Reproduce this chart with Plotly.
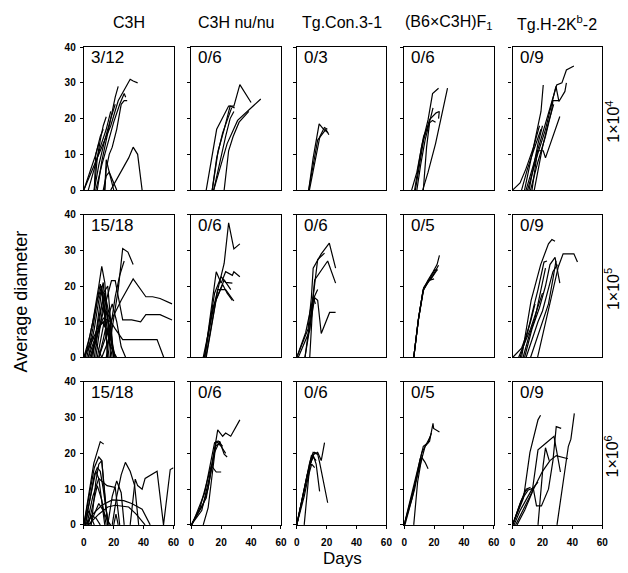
import plotly.graph_objects as go

# ---------------- data (days, average diameter) ----------------
col_titles = ["C3H", "C3H nu/nu", "Tg.Con.3-1", "(B6×C3H)F<sub>1</sub>", "Tg.H-2K<sup>b</sup>-2"]
row_labels = ["1×10<sup>4</sup>", "1×10<sup>5</sup>", "1×10<sup>6</sup>"]
counts = [["3/12", "0/6", "0/3", "0/6", "0/9"],
          ["15/18", "0/6", "0/6", "0/5", "0/9"],
          ["15/18", "0/6", "0/6", "0/5", "0/9"]]
x_ticks = [0, 20, 40, 60]
y_ticks = [0, 10, 20, 30, 40]

p11 = [([0, 6, 12, 18, 23, 27, 31, 33, 36], [0, 6, 12, 18, 25, 28, 31, 30.5, 30]),
       ([7, 10, 14, 18, 21, 23], [0, 7, 14, 20, 26, 29]),
       ([8, 12, 16, 20, 24, 27, 28], [0, 7, 13, 19, 24, 27, 26]),
       ([14, 15, 17, 19, 22, 25, 27, 29], [0, 6, 10, 12, 17, 24, 25, 25]),
       ([7, 9, 11, 13, 15], [0, 9, 14, 18, 20.5]),
       ([0, 4, 8, 11, 13], [0, 5, 10, 15, 17]),
       ([3, 7, 11, 15, 18], [0, 6, 12, 17, 22]),
       ([14, 15, 17, 20], [0, 8.5, 5, 0]),
       ([13, 15, 17, 20, 22], [0, 4, 5, 2, 0]),
       ([18, 22, 26, 30, 33, 36, 39], [0, 3, 6, 9, 12, 10, 0]),
       ([9, 12, 15, 18, 21], [0, 8, 14, 20, 24]),
       ([7, 8, 10], [0, 10, 13])]
p12 = [([10, 17, 25, 28.5, 32.5, 40], [0, 17, 23.5, 23.5, 29.5, 24.5]),
       ([14, 18, 22, 26, 29], [0, 11, 17, 23.5, 23]),
       ([15, 20, 24, 31, 36, 39, 46.5], [0, 7, 13, 19.5, 21.5, 22.5, 25.5]),
       ([22, 25, 28, 32, 38.5], [0, 11, 15, 19, 22]),
       ([15, 19, 23, 26, 28.5], [0, 8, 15, 20, 22]),
       ([14, 17, 21, 25, 27], [0, 9, 16, 21, 23])]
p13 = [([8, 11, 15, 18, 21], [0, 9, 18.5, 17, 16]),
       ([8, 11, 14, 19.5, 21.5], [0, 7, 14, 17, 15.5]),
       ([8.5, 12, 15.5, 18.5, 20.5], [0, 8, 15, 17.5, 17])]
p14 = [([7, 11.7, 16, 19, 23], [0, 12.3, 19.7, 27, 28.5]),
       ([7.5, 13, 17, 21.4, 23.5, 23], [0, 14, 19.7, 21.6, 22, 20]),
       ([12.4, 16, 21, 25.7, 29], [0, 5, 13, 22, 28.5]),
       ([8.5, 11, 14, 17, 19.3], [0, 7, 14, 19, 23]),
       ([12.8, 15, 17, 19, 21], [0, 12, 18.8, 19.5, 19]),
       ([5, 8.5, 13, 16], [0, 5, 15, 18])]
p15 = [([9, 16.7, 23, 29.5, 33, 36, 41], [0, 11, 20.6, 29.4, 30, 33.6, 34.7]),
       ([8, 14.5, 19, 20.5], [0, 13, 22, 29.4]),
       ([10, 16, 22, 29, 31, 35, 36], [0, 9, 17, 29, 24.8, 27.6, 30]),
       ([12, 17, 22, 26, 27, 31], [0, 8, 15, 22, 25, 25]),
       ([13, 16.7, 20.5, 22, 31.6], [0, 11, 11, 9, 20.6]),
       ([0, 5, 9, 14, 18], [0, 2, 6, 12, 18]),
       ([14.5, 17, 20, 24, 27.5], [0, 6, 12, 19, 24]),
       ([6, 10, 14, 17, 19], [0, 6, 11, 15, 17]),
       ([11, 14, 17, 20], [0, 7, 13, 18])]
p21 = [([1, 6, 10, 12, 14, 16, 18], [0, 10, 20, 25.5, 21, 10, 0]),
       ([0, 4, 8, 11, 13, 15, 17], [0, 6, 14, 20.5, 16, 6, 0]),
       ([2, 6, 9, 12, 14, 16], [0, 8, 16, 20, 12, 0]),
       ([3, 7, 10, 13, 15, 19], [0, 8, 16, 21, 10, 0]),
       ([5, 8, 11, 14, 17, 20], [0, 7, 13, 18, 8, 0]),
       ([0, 5, 9, 13, 18, 21], [0, 4, 8, 10, 5, 0]),
       ([4, 8, 12, 15, 18, 22], [0, 5, 10, 8, 3, 0]),
       ([6, 9, 12, 14, 16], [0, 10, 19, 12, 0]),
       ([8, 11, 14, 17, 19, 21], [0, 9, 18, 12, 4, 0]),
       ([3, 8, 13, 18, 21, 26, 49, 53.5], [0, 6, 11, 10, 8, 5, 5, 0]),
       ([5, 10, 14, 18.5, 21, 26, 32, 38, 41.5, 51, 59], [0, 8, 15, 21.5, 21.5, 10.5, 10.5, 10, 12, 12, 10.5]),
       ([10, 15, 18.5, 25, 33, 41.5, 46, 51, 59], [0, 6, 10.5, 16, 22, 17, 17, 16.5, 15]),
       ([12, 18.5, 23, 26, 29.5, 33], [0, 7, 19, 30.5, 29.5, 26]),
       ([15, 18, 21, 24, 27], [0, 9, 17, 23, 27]),
       ([7, 10, 13, 16, 18, 20], [0, 9, 18, 20, 10, 0]),
       ([10, 13, 16, 19, 22, 25, 28], [0, 5, 11, 15, 10, 3, 0]),
       ([9, 12, 15, 18, 20], [0, 6, 13, 6, 0]),
       ([0, 3, 6, 9, 12], [0, 3, 6, 3, 0])]
p22 = [([8, 15.6, 22, 25, 28.5, 32.5], [0, 15.3, 26.3, 37.7, 30.4, 31.8]),
       ([9, 16.7, 20, 23, 27.5, 28.5, 32.5], [0, 24, 20.8, 24, 23, 24, 22.6]),
       ([8.7, 15.6, 20, 23, 27.5], [0, 18, 22.6, 21, 20.8]),
       ([9.7, 17.7, 23, 28.5], [0, 19, 19, 15.8]),
       ([10, 16.7, 22, 26.4], [0, 16.3, 21.7, 19]),
       ([9, 14.5, 21, 24, 27.5], [0, 14, 20.4, 18, 16])]
p23 = [([0, 7.6, 9.8, 11, 16.4, 21.8, 26], [0, 8, 16.7, 25, 29, 32, 25]),
       ([1, 8.7, 12, 16, 20.7, 26], [0, 7.6, 21.7, 24, 27, 20.8]),
       ([8.7, 11, 14, 18.6], [0, 17, 27.4, 29.2]),
       ([5.5, 10, 12, 14, 16.4, 22, 26], [0, 12, 16.7, 16, 6.7, 12.6, 12.6]),
       ([5.5, 10, 12, 14], [0, 14, 17.2, 19]),
       ([0, 6, 9, 11, 12.5], [0, 7, 13, 17, 15])]
p24 = [([6.4, 9.6, 12.8, 16, 19.3, 22, 23.6], [0, 10.8, 19, 21.7, 24, 26, 28.6]),
       ([6.4, 9.6, 12.8, 16, 19.3, 23], [0, 11, 19, 21, 23, 25.8]),
       ([6.4, 9.3, 12.5, 15.5, 18, 22], [0, 10, 18.5, 21, 22, 24.5]),
       ([6.4, 9.8, 13, 16, 20], [0, 11.5, 19.5, 21.5, 22]),
       ([6.4, 9.5, 13, 17, 20.5, 22.5], [0, 10.5, 19, 22, 24.5, 24.5])]
p25 = [([0, 6, 9, 12, 15], [0, 2.6, 6, 10, 15]),
       ([6, 12.4, 18.8, 24, 26.3, 28.4], [0, 16, 26, 31.8, 33, 32.5]),
       ([16.7, 23, 27.4, 30.6, 33.8, 41, 43.4], [0, 11.7, 20, 25.4, 29, 29, 26.7]),
       ([8, 13, 18, 22, 25, 28.4, 31.6], [0, 8, 14, 20, 26, 28, 20.8]),
       ([5, 10, 14, 17, 21, 23], [0, 7, 14, 19, 26.7, 27]),
       ([7, 11, 15, 17, 19, 22], [0, 6, 11, 15, 19, 25]),
       ([9, 13, 17, 20, 23, 27, 30], [0, 5, 10, 13, 18, 24, 26]),
       ([12, 17, 21, 24, 27, 29], [0, 6, 11, 15, 22, 27]),
       ([4, 8, 12, 16, 20], [0, 4, 8, 13, 18])]
p31 = [([0, 6.7, 11, 13.3], [0, 17.3, 23.3, 22.6]),
       ([0, 4, 7, 10, 12, 14, 16], [0, 9, 16, 19, 18, 8, 0]),
       ([1, 4, 7, 9, 11, 13, 15, 17], [0, 7, 14, 16, 15, 10, 4, 0]),
       ([0, 3, 6, 8, 10, 12, 14], [0, 5, 11, 15, 13, 6, 0]),
       ([2, 6, 10, 13, 15.5, 21, 24], [0, 8, 13, 12, 11, 10.5, 0]),
       ([19, 22, 25, 27.8, 31, 34, 36.7], [0, 8, 14, 17.5, 15, 11, 0]),
       ([16, 19, 22, 25, 27], [0, 8, 12.3, 9, 0]),
       ([31, 34.4, 36, 39, 41, 45, 49, 53.3, 57.8, 60], [0, 12.8, 11, 10, 13, 14, 15, 0, 15.5, 16]),
       ([1, 6, 12, 19, 26.7, 32, 39, 44.4], [0, 3, 5.5, 7, 6.8, 6, 4.4, 0]),
       ([3, 10, 16, 21, 30, 35, 41], [0, 3, 5, 5.5, 5, 3, 0]),
       ([20, 21.5, 23], [0, 3, 0]),
       ([1, 3, 5, 7], [0, 4, 2, 0]),
       ([2, 5, 8, 11], [0, 2.5, 2, 0]),
       ([5, 8, 10, 12, 14, 16], [0, 12, 17, 18, 9, 0]),
       ([3, 6, 9, 12, 15], [0, 6, 11, 7, 0]),
       ([4, 7, 10, 13, 16, 18], [0, 3, 6, 4, 1, 0])]
p32 = [([0, 8, 11.3, 17.7, 21, 23, 26.4, 29.7, 32.5], [0, 5.7, 10.3, 26.6, 24.8, 25.7, 24.8, 27.5, 29.4]),
       ([0, 10, 15.6, 19, 22, 24], [0, 7.5, 20.3, 23.4, 19.8, 19]),
       ([8, 11.3, 16.7, 20, 23], [0, 4.8, 23.4, 22, 20]),
       ([0, 6, 13.4, 16.7, 20], [0, 5, 16.6, 14.8, 14.8]),
       ([0.5, 9, 15.6, 18, 21], [0, 9, 23, 23.5, 22]),
       ([0, 7, 12, 16, 19.5], [0, 4, 13, 22, 23])]
p33 = [([0, 8.7, 11, 14, 15.3, 20.7], [0, 17.5, 20.3, 19.8, 17.5, 6.2]),
       ([0, 9.8, 14, 16.4, 18.6], [0, 19.4, 20.3, 18, 23]),
       ([5, 8.7, 11, 13, 15.3], [0, 16.6, 19.5, 17, 9.4]),
       ([0, 7, 10.5, 12, 14], [0, 14, 19, 20.3, 19.8]),
       ([0, 6, 9, 11, 13], [0, 11, 17, 19, 18]),
       ([0, 5, 8, 10, 12], [0, 8, 14, 17, 16])]
p34 = [([0, 6.4, 11.8, 14, 17, 19.3, 19.7, 23.6], [0, 10.3, 18.4, 22, 23.4, 28.4, 27, 26]),
       ([0, 10.7, 12.8, 16, 18.2], [0, 18.4, 22, 23, 25.7]),
       ([6.4, 9, 11.8, 14, 16], [0, 12, 18.9, 17.5, 15.7]),
       ([0, 5.3, 10.7, 12], [0, 7.5, 18.4, 18]),
       ([0.5, 7, 11.8, 15, 17.6], [0, 10, 20.2, 23, 24.8])]
p35 = [([0, 7.3, 11.6, 15, 17, 18.7], [0, 7.5, 20.3, 25.7, 29.4, 30.7]),
       ([0, 6, 10.5, 13.8, 16, 19.3, 24, 27, 29.2, 32.5], [0, 7, 9.8, 10.3, 5.3, 5.3, 10, 18, 27.5, 27]),
       ([3, 8, 13, 17, 22.6, 27.7, 32], [0, 4, 9, 21, 23, 24.8, 14.8]),
       ([17, 20.4, 22, 24.5], [0, 16.6, 21.6, 18]),
       ([29.7, 33.6, 37.3, 39, 41.3], [0, 11.2, 22, 24, 31.2]),
       ([2, 8, 14, 20, 25, 29.2, 37], [0, 5, 10, 15, 18, 19.4, 18.5]),
       ([0, 4, 8, 10], [0, 4.8, 9, 10]),
       ([0, 5, 9, 12], [0, 6, 10, 10.5]),
       ([1, 5, 9, 13, 17], [0, 4, 7, 10, 12])]

panels = [[p11, p12, p13, p14, p15],
          [p21, p22, p23, p24, p25],
          [p31, p32, p33, p34, p35]]

# ---------------- layout geometry (pixels) ----------------
W, H = 628, 573
col_left = [82, 191, 298, 407, 517]
col_w = 91
row_top = [42, 213, 384]
row_h = 146

def px(x):
    return x / W

def py(y):
    return 1 - y / H

FONT = "Liberation Sans, Arial, sans-serif"

fig = go.Figure()
layout = {}
annotations = []

for r in range(3):
    for c in range(5):
        n = r * 5 + c + 1
        sfx = "" if n == 1 else str(n)
        for days, diam in panels[r][c]:
            fig.add_trace(go.Scatter(x=days, y=diam, mode="lines",
                                     line=dict(color="black", width=1.2),
                                     xaxis="x" + sfx, yaxis="y" + sfx,
                                     hoverinfo="skip", showlegend=False))
        layout["xaxis" + sfx] = dict(
            domain=[px(col_left[c]), px(col_left[c] + col_w)],
            anchor="y" + sfx, range=[0, 60], tickvals=x_ticks,
            showticklabels=(r == 2), ticks="outside" if r == 2 else "",
            ticklen=3, tickcolor="black", ticklabelstandoff=5,
            showline=True, mirror=True, linecolor="black", linewidth=1.2,
            showgrid=False, zeroline=False, fixedrange=True,
            tickfont=dict(family=FONT, size=10, color="black", weight="bold"))
        layout["yaxis" + sfx] = dict(
            domain=[py(row_top[r] + row_h), py(row_top[r])],
            anchor="x" + sfx, range=[0, 40], tickvals=y_ticks,
            showticklabels=(c == 0), ticks="outside", ticklen=3,
            tickcolor="black", ticklabelstandoff=2,
            showline=True, mirror=True, linecolor="black", linewidth=1.2,
            showgrid=False, zeroline=False, fixedrange=True,
            tickfont=dict(family=FONT, size=10, color="black", weight="bold"))
        annotations.append(dict(
            text=counts[r][c], xref="paper", yref="paper",
            x=px(col_left[c] + 5), y=py(row_top[r] + 11),
            xanchor="left", yanchor="middle", showarrow=False,
            font=dict(family=FONT, size=17, color="black")))

for c in range(5):
    annotations.append(dict(
        text=col_titles[c], xref="paper", yref="paper",
        x=px(col_left[c] + col_w / 2), y=py(17),
        xanchor="center", yanchor="middle", showarrow=False,
        font=dict(family=FONT, size=16, color="black")))

for r in range(3):
    annotations.append(dict(
        text=row_labels[r], xref="paper", yref="paper",
        x=px(618), y=py(row_top[r] + row_h / 2 + 3),
        xanchor="center", yanchor="middle", showarrow=False, textangle=-90,
        font=dict(family=FONT, size=16, color="black")))

annotations.append(dict(
    text="Average diameter", xref="paper", yref="paper",
    x=px(18), y=py(302), xanchor="center", yanchor="middle",
    showarrow=False, textangle=-90,
    font=dict(family=FONT, size=18, color="black")))
annotations.append(dict(
    text="Days", xref="paper", yref="paper",
    x=px(344), y=py(564), xanchor="center", yanchor="middle",
    showarrow=False, font=dict(family=FONT, size=17, color="black")))

fig.update_layout(
    width=W, height=H,
    margin=dict(l=0, r=0, t=0, b=0),
    paper_bgcolor="white", plot_bgcolor="white",
    showlegend=False,
    annotations=annotations,
    **layout)

fig.write_html("out.html",
               config={"displayModeBar": False},
               post_script="document.body.style.margin='0';"
                           "document.body.style.padding='0';"
                           "document.documentElement.style.overflow='hidden';")
